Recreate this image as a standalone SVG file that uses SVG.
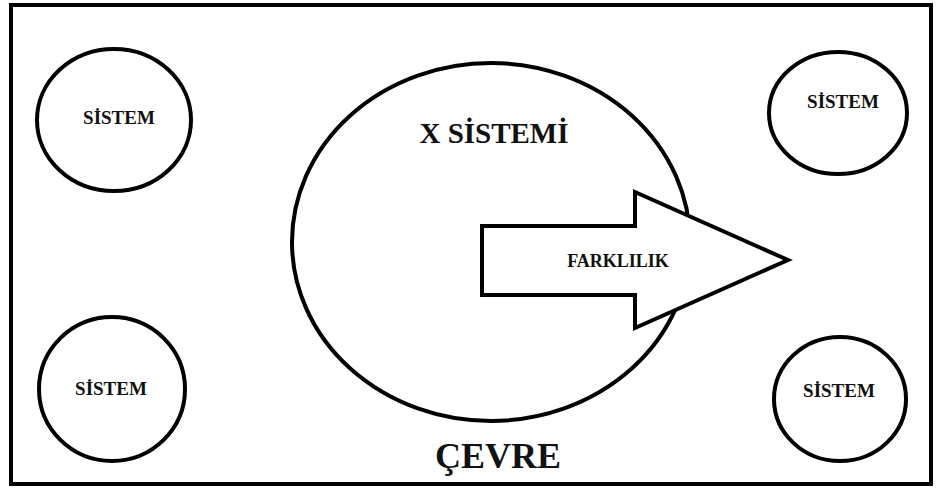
<svg xmlns="http://www.w3.org/2000/svg" width="936" height="488" viewBox="0 0 936 488">
<style>
.shape{fill:#fff;stroke:#000;stroke-width:4}
.t{font-family:"Liberation Serif","Times New Roman",serif;font-weight:bold;fill:#111;text-anchor:middle}
</style>
<rect x="0" y="0" width="936" height="488" fill="#fff"/>
<rect id="cevre-border" x="11" y="5" width="920" height="479" fill="none" stroke="#000" stroke-width="4"/>
<g id="x-sistemi">
<ellipse class="shape" cx="491" cy="242" rx="199" ry="179"/>
<text class="t" x="494" y="143" font-size="29">X SİSTEMİ</text>
</g>
<g id="sistem-tl">
<ellipse class="shape" cx="114" cy="120" rx="77" ry="71"/>
<text class="t" x="119" y="124" font-size="19">SİSTEM</text>
</g>
<g id="sistem-tr">
<ellipse class="shape" cx="838" cy="113" rx="69" ry="61"/>
<text class="t" x="843" y="108" font-size="19">SİSTEM</text>
</g>
<g id="sistem-bl">
<ellipse class="shape" cx="112" cy="389" rx="73" ry="72"/>
<text class="t" x="111" y="395" font-size="19">SİSTEM</text>
</g>
<g id="sistem-br">
<ellipse class="shape" cx="840" cy="399" rx="66" ry="62"/>
<text class="t" x="839" y="397" font-size="19">SİSTEM</text>
</g>
<g id="connectors">
<g id="farklilik-arrow">
<polygon class="shape" stroke-width="5" stroke-linejoin="miter" points="482,226 635,226 635,192 788,260 635,328 635,295 482,295"/>
<text class="t" x="618" y="267" font-size="18">FARKLILIK</text>
</g>
</g>
<text id="cevre-label" class="t" x="498" y="468" font-size="36">ÇEVRE</text>
</svg>
